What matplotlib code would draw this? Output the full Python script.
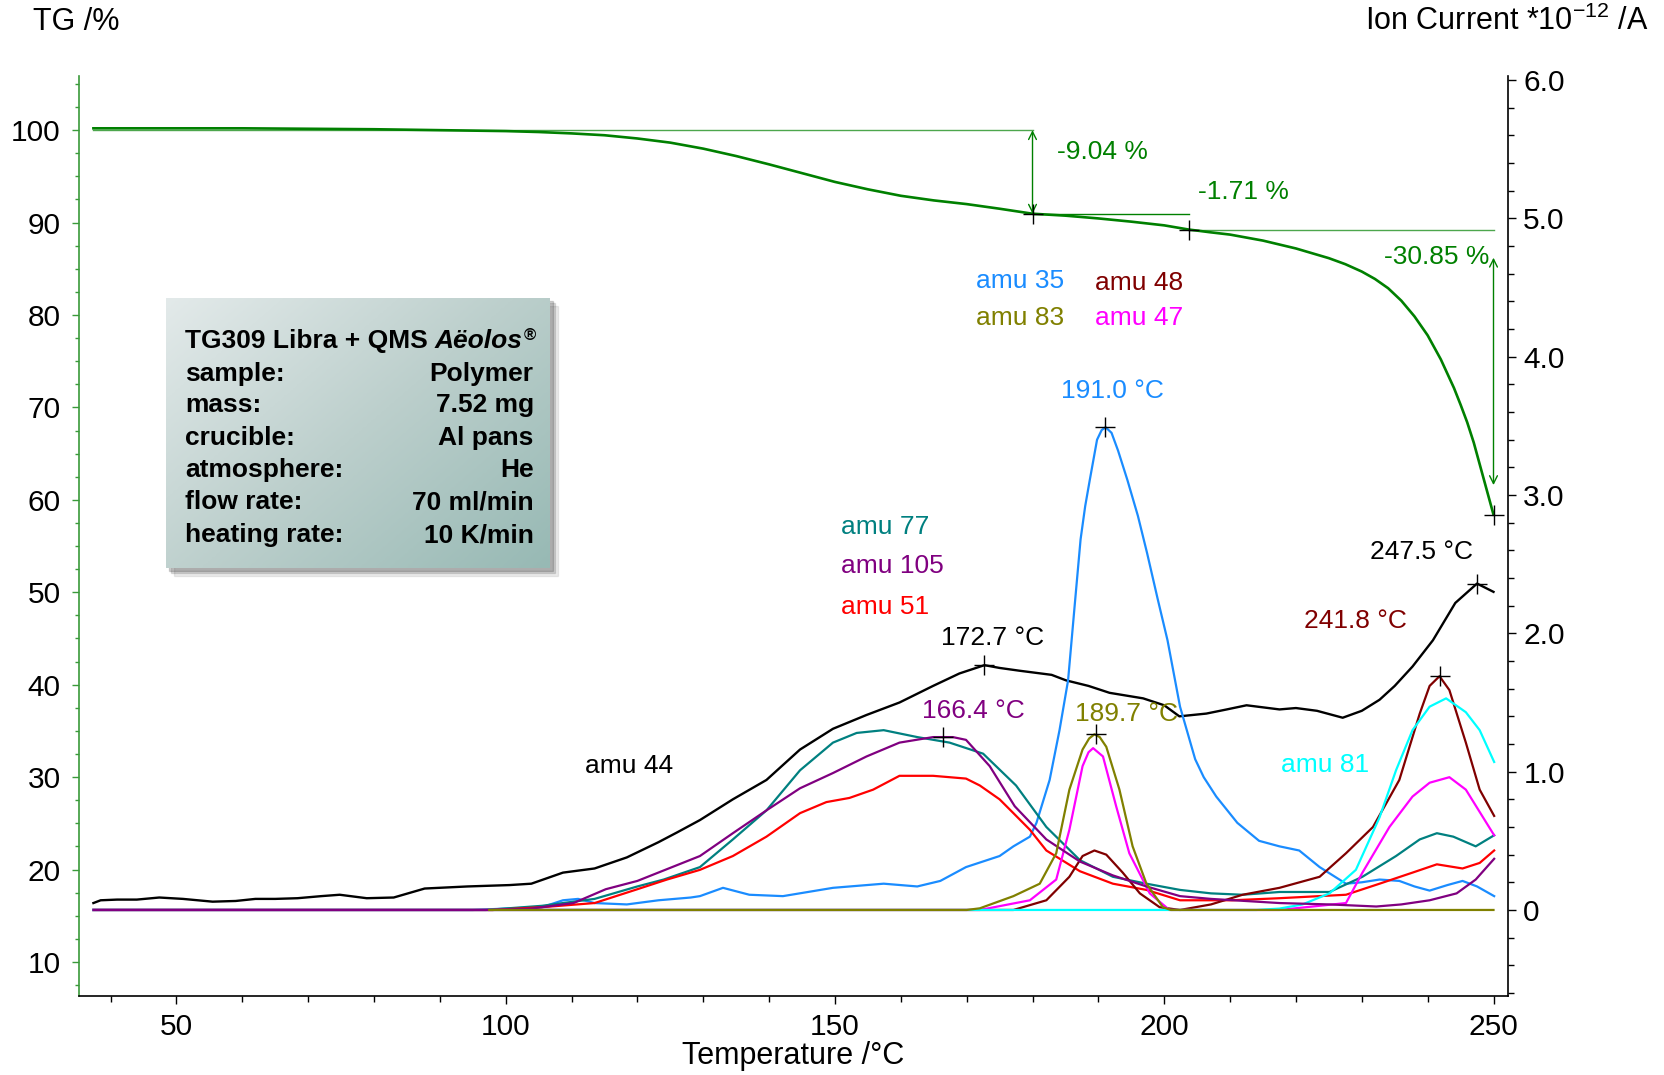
import numpy as np
import matplotlib
matplotlib.use('Agg')
import matplotlib.pyplot as plt
from matplotlib.colors import LinearSegmentedColormap
from matplotlib.patches import Rectangle
from matplotlib.ticker import MultipleLocator, FuncFormatter

plt.rcParams['font.family'] = ['Liberation Sans', 'DejaVu Sans']

# ---- TG curve (%)
tg_T = [37.4, 50, 60, 70, 80, 90, 100, 105, 110, 115, 120, 125, 130, 135, 140,
        145, 150, 155, 160, 165, 170, 175, 180, 185, 190, 195, 200, 203.7, 207,
        210, 215, 220, 225, 227.5, 230, 232, 234, 236, 238, 240, 242, 244, 245,
        246, 247, 248, 249, 250]
tg_val = [100.2, 100.2, 100.2, 100.15, 100.1, 100.0, 99.9, 99.8, 99.65, 99.45,
          99.1, 98.65, 98.0, 97.2, 96.3, 95.35, 94.4, 93.6, 92.9, 92.4, 92.0,
          91.5, 90.96, 90.75, 90.45, 90.1, 89.7, 89.25, 88.95, 88.7, 88.05,
          87.2, 86.15, 85.5, 84.7, 83.9, 82.9, 81.55, 79.85, 77.8, 75.2, 72.1,
          70.3, 68.4, 66.2, 63.6, 61.0, 58.4]

# mass loss steps
step_start = 100.0
step_T = [180.0, 203.7, 250.0]
step_TG = [90.96, 89.25, 58.4]
step_labels = ['-9.04 %', '-1.71 %', '-30.85 %']

# ---- ion currents (*10^-12 A)
amu44_T = [37.4, 38.5, 41, 44, 47.4, 51, 55.5, 59, 62, 65, 68.4, 72, 74.8, 78.9,
           83, 87.7, 94.2, 100.6, 103.9, 108.7, 113.5, 118.4, 123.2, 126, 129.5,
           134.5, 139.6, 144.7, 149.7, 154.8, 159.8, 164.9, 168.9, 172.7, 175,
           178, 182.9, 185.1, 188.5, 191.7, 196.8, 200, 202.3, 206.4, 209.5,
           212.5, 217.5, 220, 223.2, 227.1, 230, 232.7, 235, 237.7, 240.8, 244.2,
           247.5, 250]
amu44 = [0.05, 0.07, 0.075, 0.075, 0.09, 0.08, 0.06, 0.065, 0.08, 0.08, 0.085,
         0.1, 0.11, 0.085, 0.09, 0.155, 0.17, 0.18, 0.19, 0.27, 0.30, 0.38, 0.49,
         0.56, 0.65, 0.80, 0.94, 1.16, 1.31, 1.41, 1.50, 1.62, 1.71, 1.77, 1.75,
         1.73, 1.70, 1.66, 1.62, 1.57, 1.53, 1.48, 1.40, 1.42, 1.45, 1.48, 1.45,
         1.46, 1.44, 1.39, 1.44, 1.52, 1.62, 1.76, 1.95, 2.22, 2.36, 2.30]

amu35_T = [37.4, 95, 100, 105.5, 108.7, 111, 113.5, 118.4, 123.2, 128.1, 129.5,
           133, 137, 142.1, 149.7, 157.4, 162.5, 166, 169.9, 175, 177.1, 179.6,
           180.6, 182.6, 184.1, 185.4, 186.4, 187.3, 188.0, 188.7, 189.8, 190.5,
           191.1, 192, 193, 194.4, 196, 197.4, 199, 200.5, 202.4, 204.7, 206,
           207.9, 211.1, 214.4, 217.5, 220.5, 223.6, 227.6, 230, 232.7, 235.7,
           238, 240.3, 243, 245.3, 247.5, 250.1]
amu35 = [0.0, 0.0, 0.01, 0.02, 0.07, 0.08, 0.05, 0.04, 0.07, 0.09, 0.10, 0.16,
         0.11, 0.10, 0.16, 0.19, 0.17, 0.21, 0.31, 0.39, 0.46, 0.53, 0.63, 0.94,
         1.30, 1.66, 2.20, 2.68, 2.92, 3.11, 3.40, 3.47, 3.49, 3.45, 3.32, 3.11,
         2.85, 2.58, 2.25, 1.95, 1.47, 1.09, 0.96, 0.82, 0.63, 0.50, 0.46, 0.43,
         0.31, 0.19, 0.20, 0.22, 0.21, 0.17, 0.14, 0.18, 0.21, 0.17, 0.10]

amu77_T = [37.4, 97, 105.5, 113.5, 120, 124, 129.5, 134.5, 139.6, 144.7, 149.7,
           153.3, 157.4, 162.5, 167.4, 172.5, 177.5, 182.1, 187.2, 192.2, 197.3,
           202.4, 207.1, 211.9, 217.5, 225.1, 230.1, 235.2, 238.8, 241.4, 243.9,
           247.3, 250.1]
amu77 = [0.0, 0.0, 0.03, 0.08, 0.17, 0.22, 0.31, 0.51, 0.72, 1.01, 1.21, 1.28,
         1.30, 1.25, 1.21, 1.13, 0.90, 0.60, 0.36, 0.24, 0.19, 0.145, 0.12, 0.11,
         0.13, 0.13, 0.24, 0.39, 0.51, 0.555, 0.53, 0.46, 0.54]

amu105_T = [37.4, 98, 103.9, 110.3, 115.2, 120, 129.5, 134.5, 139.6, 144.7,
            149.7, 154.8, 159.8, 164.9, 166.4, 167.9, 169.9, 173.5, 177.3, 182.1,
            187.2, 192.2, 197.3, 202.4, 207.1, 217.5, 225.1, 232.2, 236, 240.3,
            244.4, 247.3, 250.1]
amu105 = [0.0, 0.0, 0.01, 0.05, 0.15, 0.21, 0.39, 0.555, 0.72, 0.88, 0.99, 1.11,
          1.21, 1.25, 1.25, 1.25, 1.23, 1.04, 0.75, 0.51, 0.35, 0.25, 0.17, 0.10,
          0.08, 0.05, 0.04, 0.025, 0.04, 0.07, 0.12, 0.22, 0.37]

amu51_T = [37.4, 98, 105.5, 113.5, 120, 124.5, 129.5, 134.5, 139.6, 144.7, 148.7,
           152.2, 155.8, 159.8, 164.9, 169.9, 172, 175, 177.1, 179.6, 182.1,
           187.2, 192.2, 197.3, 202.4, 210.3, 217.5, 227.6, 232.7, 237.7, 241.4,
           245.3, 247.9, 250.1]
amu51 = [0.0, 0.0, 0.02, 0.05, 0.15, 0.22, 0.29, 0.39, 0.53, 0.70, 0.78, 0.81,
         0.87, 0.97, 0.97, 0.95, 0.90, 0.80, 0.70, 0.58, 0.43, 0.28, 0.19, 0.145,
         0.07, 0.07, 0.085, 0.11, 0.19, 0.27, 0.33, 0.30, 0.34, 0.43]

amu83_T = [97.5, 170, 172, 177.1, 181.1, 183.6, 185.6, 187.6, 188.6, 189.4,
           190.2, 191.2, 193.2, 195.2, 197.3, 199.8, 201, 250]
amu83 = [0.0, 0.0, 0.012, 0.10, 0.19, 0.41, 0.87, 1.16, 1.24, 1.27, 1.25, 1.18,
         0.87, 0.46, 0.19, 0.02, 0.0, 0.0]

amu47_T = [37.4, 172, 179.6, 183.6, 185.6, 187.6, 188.5, 189.2, 190.7, 192.7,
           194.7, 197.8, 200.8, 217.5, 227.6, 230.1, 234.2, 237.7, 240.3, 243.3,
           245.8, 250.1]
amu47 = [0.0, 0.0, 0.07, 0.22, 0.58, 1.04, 1.14, 1.17, 1.11, 0.75, 0.41, 0.12,
         0.0, 0.0, 0.05, 0.27, 0.60, 0.82, 0.92, 0.96, 0.87, 0.54]

amu48_T = [37.4, 167, 177.1, 182.1, 185.6, 187.6, 189.4, 191.2, 193.7, 196.3,
           199.3, 202.4, 207.1, 211.9, 217.5, 223.6, 227.6, 231.7, 235.7, 238.8,
           240.3, 241.8, 243.3, 245.8, 247.9, 250.1]
amu48 = [0.0, 0.0, 0.0, 0.07, 0.24, 0.39, 0.43, 0.40, 0.27, 0.12, 0.02, 0.0,
         0.04, 0.11, 0.16, 0.24, 0.41, 0.60, 0.94, 1.42, 1.62, 1.69, 1.59, 1.21,
         0.87, 0.68]

amu81_T = [37.4, 214, 217.5, 221, 225.1, 229.1, 232.7, 235.2, 237.7, 240.3,
           242.8, 245.8, 247.9, 250.1]
amu81 = [0.0, 0.0, 0.01, 0.04, 0.12, 0.29, 0.67, 1.01, 1.30, 1.47, 1.53, 1.43,
         1.30, 1.07]

# peak temperatures and heights
peaks_T = [172.7, 166.4, 191.0, 189.7, 241.8, 247.5]
peaks_I = [1.77, 1.25, 3.49, 1.27, 1.69, 2.36]

green = '#008000'
light_green = '#4da64d'
c44, c35, c48, c83 = 'black', '#1a8cff', '#800000', '#808000'
c47, c77, c105, c51, c81 = '#ff00ff', '#008080', '#800080', '#ff0000', '#00ffff'

fig = plt.figure(figsize=(16.65, 10.75), dpi=100)
ax = fig.add_axes([0.0474, 0.0735, 0.8583, 0.8558])
ax2 = ax.twinx()

# TG
ax.plot(tg_T, tg_val, color=green, lw=1.9, zorder=4)
ax.plot([37.4, step_T[0]], [step_start, step_start], color=light_green, lw=1.0)
ax.plot([step_T[0], step_T[1]], [step_TG[0], step_TG[0]], color=green, lw=1.0)
ax.plot([step_T[1], 250], [step_TG[1], step_TG[1]], color=light_green, lw=1.0)
ax.annotate('', xy=(step_T[0], step_TG[0]), xytext=(step_T[0], step_start),
            arrowprops=dict(arrowstyle='<->', color=green, lw=1.0,
                            shrinkA=0, shrinkB=0, mutation_scale=14))
ax.annotate('', xy=(step_T[2], 61.6), xytext=(step_T[2], 86.2),
            arrowprops=dict(arrowstyle='<->', color=green, lw=1.0,
                            shrinkA=0, shrinkB=0, mutation_scale=14))
ax.plot(step_T, step_TG, linestyle='none', marker='+', color='black',
        markersize=14, mew=1.0, zorder=5)
ax.text(183.7, 97.6, step_labels[0], color=green, fontsize=19, va='center')
ax.text(205.2, 93.3, step_labels[1], color=green, fontsize=19, va='center')
ax.text(233.4, 86.3, step_labels[2], color=green, fontsize=19, va='center')

# ion currents
ax2.plot(amu44_T, amu44, color=c44, lw=1.7)
ax2.plot(amu35_T, amu35, color=c35, lw=1.6)
ax2.plot(amu77_T, amu77, color=c77, lw=1.6)
ax2.plot(amu51_T, amu51, color=c51, lw=1.6)
ax2.plot(amu48_T, amu48, color=c48, lw=1.6)
ax2.plot(amu47_T, amu47, color=c47, lw=1.6)
ax2.plot(amu81_T, amu81, color=c81, lw=1.6)
ax2.plot(amu105_T, amu105, color=c105, lw=1.6)
ax2.plot(amu83_T, amu83, color=c83, lw=1.6)
ax2.plot(peaks_T, peaks_I, linestyle='none', marker='+', color='black',
         markersize=14, mew=1.0, zorder=6)

fs = 19
ax2.text(192.1, 3.75, '191.0 °C', color=c35, fontsize=fs, ha='center', va='center')
ax2.text(174.0, 1.97, '172.7 °C', color=c44, fontsize=fs, ha='center', va='center')
ax2.text(171.0, 1.44, '166.4 °C', color=c105, fontsize=fs, ha='center', va='center')
ax2.text(194.2, 1.415, '189.7 °C', color=c83, fontsize=fs, ha='center', va='center')
ax2.text(239.0, 2.59, '247.5 °C', color=c44, fontsize=fs, ha='center', va='center')
ax2.text(229.0, 2.09, '241.8 °C', color=c48, fontsize=fs, ha='center', va='center')
ax2.text(118.7, 1.04, 'amu 44', color=c44, fontsize=fs, ha='center', va='center')
ax2.text(150.9, 2.77, 'amu 77', color=c77, fontsize=fs, va='center')
ax2.text(150.9, 2.49, 'amu 105', color=c105, fontsize=fs, va='center')
ax2.text(150.9, 2.19, 'amu 51', color=c51, fontsize=fs, va='center')
ax2.text(171.4, 4.55, 'amu 35', color=c35, fontsize=fs, va='center')
ax2.text(189.5, 4.53, 'amu 48', color=c48, fontsize=fs, va='center')
ax2.text(171.4, 4.28, 'amu 83', color=c83, fontsize=fs, va='center')
ax2.text(189.5, 4.28, 'amu 47', color=c47, fontsize=fs, va='center')
ax2.text(224.4, 1.05, 'amu 81', color=c81, fontsize=fs, ha='center', va='center')

# axes styling
ax.set_xlim(35.2, 252.2)
ax.set_ylim(6.32, 105.86)
ax2.set_ylim(-0.622, 6.03)

for s in ['top', 'right']:
    ax.spines[s].set_visible(False)
for s in ['top', 'left', 'bottom']:
    ax2.spines[s].set_visible(False)
ax.spines['left'].set_color('#3a9a3a')
ax.spines['left'].set_linewidth(1.2)
ax.spines['bottom'].set_linewidth(1.2)
ax2.spines['right'].set_linewidth(1.2)

ax.xaxis.set_major_locator(MultipleLocator(50))
ax.xaxis.set_minor_locator(MultipleLocator(10))
ax.yaxis.set_minor_locator(MultipleLocator(2.5))
ax.set_yticks(np.arange(10, 101, 10))
ax2.yaxis.set_major_locator(MultipleLocator(1.0))
ax2.yaxis.set_minor_locator(MultipleLocator(0.2))
ax2.yaxis.set_major_formatter(FuncFormatter(lambda v, p: '0' if abs(v) < 1e-9 else f'{v:.1f}'))

ax.tick_params(axis='x', which='major', length=6, width=1.0, labelsize=21.5, pad=6)
ax.tick_params(axis='x', which='minor', length=4, width=1.0)
ax.tick_params(axis='y', which='major', length=5, width=1.0, color='#3a9a3a', labelsize=21.5, pad=8)
ax.tick_params(axis='y', which='minor', length=3, width=1.0, color='#3a9a3a')
ax2.tick_params(axis='y', which='major', length=6, width=1.0, labelsize=21.5, pad=5)
ax2.tick_params(axis='y', which='minor', length=4, width=1.0)

ax.set_xlabel('Temperature /°C', fontsize=22, labelpad=0)
fig.text(0.0198, 0.98, 'TG /%', fontsize=22, va='center', ha='left')
fig.text(0.9898, 0.98, r'Ion Current *10$^{\mathregular{-12}}$ /A', fontsize=22,
         va='center', ha='right')

# info box with gradient and shadow
bx, by, bw, bh = 0.0997, 0.4716, 0.2306, 0.2512
for k, a in enumerate([0.08, 0.12, 0.16]):
    off = (3 - k) * 0.0016
    fig.patches.append(Rectangle((bx + off, by - off * 1.55), bw, bh,
                                 transform=fig.transFigure, color='black',
                                 alpha=a, zorder=1))
box_ax = fig.add_axes([bx, by, bw, bh], zorder=5)
gx, gy = np.meshgrid(np.linspace(0, 1, 300), np.linspace(0, 1, 200))
grad = 0.55 * gx + 0.45 * gy
cmap = LinearSegmentedColormap.from_list('box', ['#e3eaea', '#bccfcc', '#97b9b4'])
box_ax.imshow(grad, cmap=cmap, aspect='auto', origin='upper', extent=[0, 1, 0, 1])
box_ax.set_axis_off()

rows_left = ['sample:', 'mass:', 'crucible:', 'atmosphere:', 'flow rate:', 'heating rate:']
rows_right = ['Polymer', '7.52 mg', 'Al pans', 'He', '70 ml/min', '10 K/min']
row_y = [0.6458, 0.6168, 0.5860, 0.5563, 0.5265, 0.4958]
t1 = fig.text(0.111, 0.6763, 'TG309 Libra + QMS', fontsize=19, weight='bold',
              va='baseline', zorder=10)
ann = box_ax.annotate('Aëolos', xy=(1, 0), xycoords=t1, xytext=(5, 0),
                      textcoords='offset points', fontsize=19, weight='bold',
                      style='italic', va='bottom', ha='left', zorder=10)
box_ax.annotate('®', xy=(1, 1), xycoords=ann, xytext=(1, 1),
                textcoords='offset points', fontsize=12, weight='bold',
                va='top', ha='left', zorder=10)
for lab, val, y in zip(rows_left, rows_right, row_y):
    fig.text(0.111, y, lab, fontsize=19, weight='bold', va='baseline', zorder=10)
    fig.text(0.3205, y, val, fontsize=19, weight='bold', va='baseline',
             ha='right', zorder=10)

fig.savefig('out.png', dpi=100)
